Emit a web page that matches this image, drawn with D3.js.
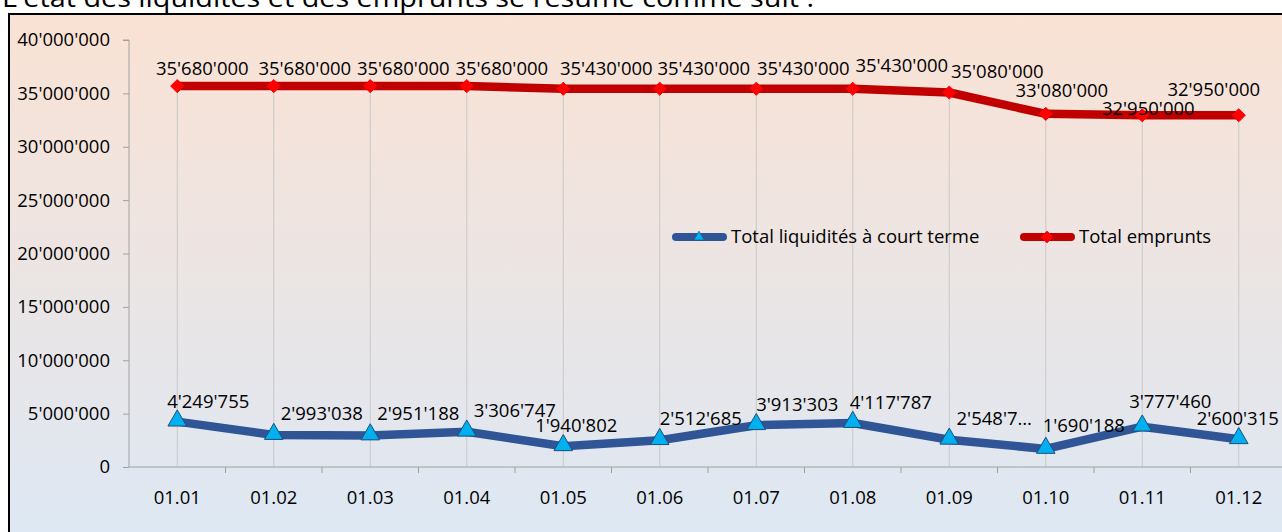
<!DOCTYPE html>
<html>
<head>
<meta charset="utf-8">
<script src="https://cdn.jsdelivr.net/npm/d3@7"></script>
<style>
  html, body { margin: 0; padding: 0; background: #ffffff; }
  svg { display: block; }
  text { font-family: "Open Sans", "Noto Sans", sans-serif; fill: #000; }
</style>
</head>
<body>
<svg id="chart" width="1282" height="532"></svg>
<script>
// ---- data ----
const titleText = "L'état des liquidités et des emprunts se résume comme suit :";
const categories = ["01.01","01.02","01.03","01.04","01.05","01.06","01.07","01.08","01.09","01.10","01.11","01.12"];
const liquidites = [4249755, 2993038, 2951188, 3306747, 1940802, 2512685, 3913303, 4117787, 2548700, 1690188, 3777460, 2600315];
const liquiditesLabels = ["4'249'755","2'993'038","2'951'188","3'306'747","1'940'802","2'512'685","3'913'303","4'117'787","2'548'7…","1'690'188","3'777'460","2'600'315"];
const emprunts = [35680000, 35680000, 35680000, 35680000, 35430000, 35430000, 35430000, 35430000, 35080000, 33080000, 32950000, 32950000];
const yTicks = [0, 5000000, 10000000, 15000000, 20000000, 25000000, 30000000, 35000000, 40000000];
const seriesNames = ["Total liquidités à court terme", "Total emprunts"];

// ---- layout ----
const svg = d3.select("#chart");
const W = 1282, H = 532;
const plot = { left: 129, top: 40, bottom: 467, right: 1287 };
const FS = 18.5;

const fmt = v => {
  const s = Math.round(v).toString();
  return s.replace(/\B(?=(\d{3})+(?!\d))/g, "'");
};

const defs = svg.append("defs");
const grad = defs.append("linearGradient").attr("id", "bg").attr("x1", 0).attr("y1", 0).attr("x2", 0).attr("y2", 1);
grad.append("stop").attr("offset", "0%").attr("stop-color", "#fae2d4");
grad.append("stop").attr("offset", "100%").attr("stop-color", "#dce8f5");

// title (mostly cropped above, as in the reference)
svg.append("text").attr("x", 2).attr("y", 7)
  .attr("font-size", 26).attr("textLength", 812).attr("lengthAdjust", "spacingAndGlyphs")
  .text(titleText);

// chart box
svg.append("rect").attr("x", 9).attr("y", 14).attr("width", W + 10).attr("height", H + 10)
  .attr("fill", "url(#bg)").attr("stroke", "#000").attr("stroke-width", 2);

const x = d3.scaleBand().domain(categories).range([plot.left, plot.right]);
const xc = c => x(c) + x.bandwidth() / 2;
const y = d3.scaleLinear().domain([0, 40000000]).range([plot.bottom, plot.top]);

// drop lines
svg.append("g").selectAll("line").data(categories).join("line")
  .attr("x1", d => xc(d)).attr("x2", d => xc(d))
  .attr("y1", (d, i) => y(Math.max(emprunts[i], liquidites[i])))
  .attr("y2", plot.bottom)
  .attr("stroke", "#c8c8c8").attr("stroke-width", 1);

// y axis
const yAxis = svg.append("g").attr("transform", `translate(${plot.left},0)`)
  .call(d3.axisLeft(y).tickValues(yTicks).tickFormat(fmt).tickSize(6).tickPadding(13));
yAxis.select(".domain").attr("stroke", "#a0a0a0").attr("d", `M-6,${plot.top}H0V${plot.bottom}`);
yAxis.selectAll(".tick line").attr("stroke", "#a0a0a0");
yAxis.selectAll(".tick text").attr("font-size", FS).attr("font-family", "Open Sans").attr("fill", "#000");

// x axis
const xAxis = svg.append("g").attr("transform", `translate(0,${plot.bottom})`)
  .call(d3.axisBottom(x).tickSize(0).tickPadding(24));
xAxis.select(".domain").attr("stroke", "#a0a0a0").attr("d", `M${plot.left},0H${plot.right}`);
xAxis.selectAll(".tick text").attr("font-size", FS).attr("font-family", "Open Sans").attr("fill", "#000");
xAxis.append("g").selectAll("line").data(categories).join("line")
  .attr("x1", d => x(d) + x.bandwidth()).attr("x2", d => x(d) + x.bandwidth())
  .attr("y1", 0).attr("y2", 6).attr("stroke", "#a0a0a0");

// lines
const line = d3.line().x((d, i) => xc(categories[i])).y(d => y(d));
svg.append("path").datum(emprunts).attr("d", line).attr("fill", "none")
  .attr("stroke", "#c00000").attr("stroke-width", 8.5).attr("stroke-linejoin", "round");
svg.append("path").datum(liquidites).attr("d", line).attr("fill", "none")
  .attr("stroke", "#2f5597").attr("stroke-width", 8.5).attr("stroke-linejoin", "round");

const diamond = d3.symbol().type(d3.symbolDiamond2).size(110);
const tri = d3.symbol().type(d3.symbolTriangle).size(150);

svg.append("g").selectAll("path").data(emprunts).join("path")
  .attr("d", diamond)
  .attr("transform", (d, i) => `translate(${xc(categories[i])},${y(d)})`)
  .attr("fill", "#ff0000").attr("stroke", "#ff0000").attr("stroke-width", 1);
svg.append("g").selectAll("path").data(liquidites).join("path")
  .attr("d", tri)
  .attr("transform", (d, i) => `translate(${xc(categories[i])},${y(d) - 1})`)
  .attr("fill", "#00b0f0").attr("stroke", "#1f4e79").attr("stroke-width", 1);

// data labels (offsets reproduce the reference's label placement)
const redDx = [25, 31, 33, 35, 43, 44, 47, 49, 48, 16, 6, -25];
const redDy = [-11, -11, -11, -11, -14, -14, -14, -17, -15, -17, 0, -19];
svg.append("g").selectAll("text").data(emprunts).join("text")
  .attr("x", (d, i) => xc(categories[i]) + redDx[i])
  .attr("y", (d, i) => y(d) + redDy[i])
  .attr("text-anchor", "middle").attr("font-size", FS)
  .text(d => fmt(d));

const blueDx = [31, 48, 48, 48, 13, 41, 41, 38, 45, 38, 28, -1];
const blueDy = [-14, -15, -15, -15, -14, -15, -14, -14, -15, -17, -19, -14];
svg.append("g").selectAll("text").data(liquidites).join("text")
  .attr("x", (d, i) => xc(categories[i]) + blueDx[i])
  .attr("y", (d, i) => y(d) + blueDy[i])
  .attr("text-anchor", "middle").attr("font-size", FS)
  .text((d, i) => liquiditesLabels[i]);

// legend
const legend = svg.append("g");
const legendItems = [
  { name: seriesNames[0], x0: 673, color: "#2f5597", marker: tri, mfill: "#00b0f0", mstroke: "#1f4e79", msize: 0.55 },
  { name: seriesNames[1], x0: 1021, color: "#c00000", marker: diamond, mfill: "#ff0000", mstroke: "#ff0000", msize: 0.9 }
];
const ly = 237;
legendItems.forEach(it => {
  legend.append("line").attr("x1", it.x0 + 3).attr("x2", it.x0 + 50).attr("y1", ly).attr("y2", ly)
    .attr("stroke", it.color).attr("stroke-width", 8).attr("stroke-linecap", "round");
  legend.append("path").attr("d", it.marker)
    .attr("transform", `translate(${it.x0 + 26},${ly}) scale(${it.msize})`)
    .attr("fill", it.mfill).attr("stroke", it.mstroke).attr("stroke-width", 1);
  legend.append("text").attr("x", it.x0 + 58).attr("y", ly + 6).attr("font-size", FS).text(it.name);
});
</script>
</body>
</html>
